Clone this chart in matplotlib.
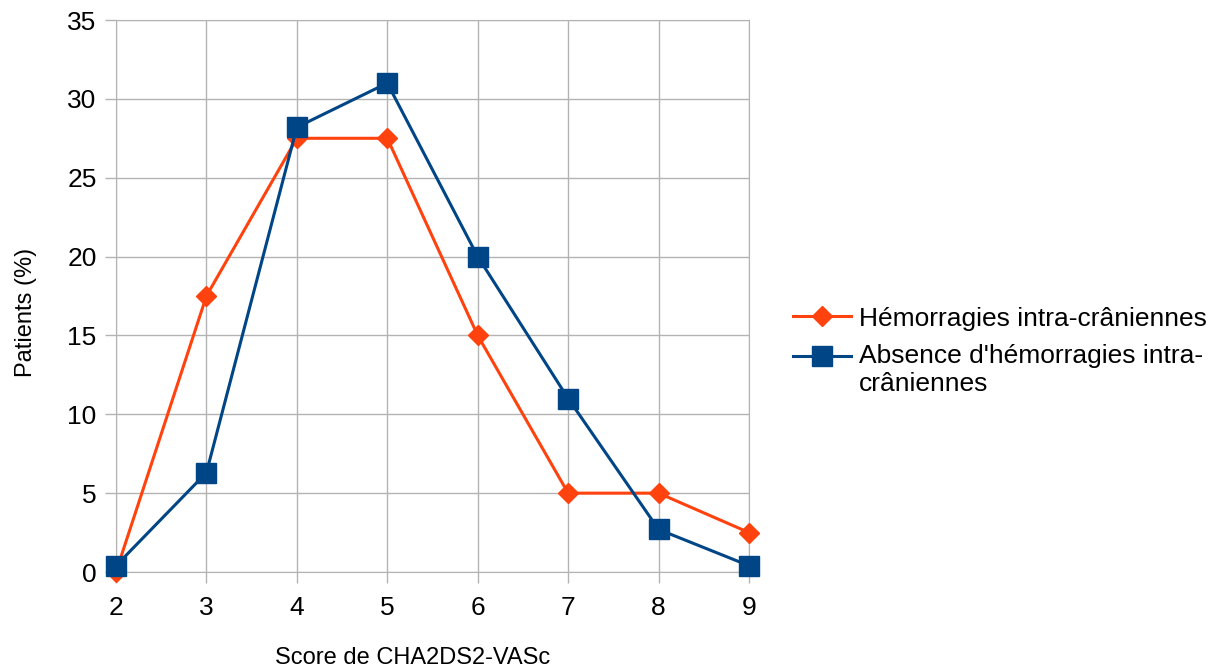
import matplotlib.pyplot as plt
from matplotlib.lines import Line2D
import numpy as np

plt.rcParams['font.family'] = ['Liberation Sans', 'DejaVu Sans']

# =========================================================
# DONNÉES
# =========================================================
scores = [2, 3, 4, 5, 6, 7, 8, 9]
hic = [0, 17.5, 27.5, 27.5, 15, 5, 5, 2.5]
sans_hic = [0.4, 6.3, 28.2, 31.0, 20.0, 11.0, 2.7, 0.4]

label_hic = "Hémorragies intra-crâniennes"
label_sans = "Absence d'hémorragies intra-\ncrâniennes"

col_hic = '#ff420e'
col_sans = '#004586'

# =========================================================
# FIGURE
# =========================================================
fig = plt.figure(figsize=(12.32, 6.68), dpi=100)
ax = fig.add_axes([116 / 1232, 1 - 572 / 668, (749 - 116) / 1232, (572 - 20) / 668])

grid_col = '#b3b3b3'

ax.plot(scores, hic, color=col_hic, linewidth=2.2, marker='D', markersize=10,
        label=label_hic, zorder=3, clip_on=False)
ax.plot(scores, sans_hic, color=col_sans, linewidth=2.2, marker='s', markersize=14,
        label=label_sans, zorder=4, clip_on=False)

ax.set_xlim(2, 9)
ax.set_ylim(0, 35)
ax.set_xticks(scores)
ax.set_yticks(np.arange(0, 36, 5))

ax.grid(True, color=grid_col, linewidth=1)
ax.set_axisbelow(True)
for s in ax.spines.values():
    s.set_color(grid_col)

ax.tick_params(axis='both', colors=grid_col, labelcolor='black', labelsize=19,
               length=8, width=1)
ax.tick_params(axis='y', pad=6)
ax.tick_params(axis='x', pad=9)

ax.set_xlabel("Score de CHA2DS2-VASc", fontsize=17, labelpad=20)
ax.set_ylabel("Patients (%)", fontsize=17, labelpad=22)
ax.xaxis.label.set_x(0.469)
ax.yaxis.label.set_y(0.471)

leg = ax.legend(loc='center left', bbox_to_anchor=(1.053, 0.40), frameon=False,
                fontsize=19, handlelength=2.2, handletextpad=0.3, labelspacing=0.5,
                borderaxespad=0)

# marqueur de la 2e entrée aligné sur la première ligne du texte
for ln in leg.findobj(Line2D):
    if ln.get_color() == col_sans:
        ln.set_ydata(np.asarray(ln.get_ydata()) + 10)

plt.savefig("out.png", dpi=100)
